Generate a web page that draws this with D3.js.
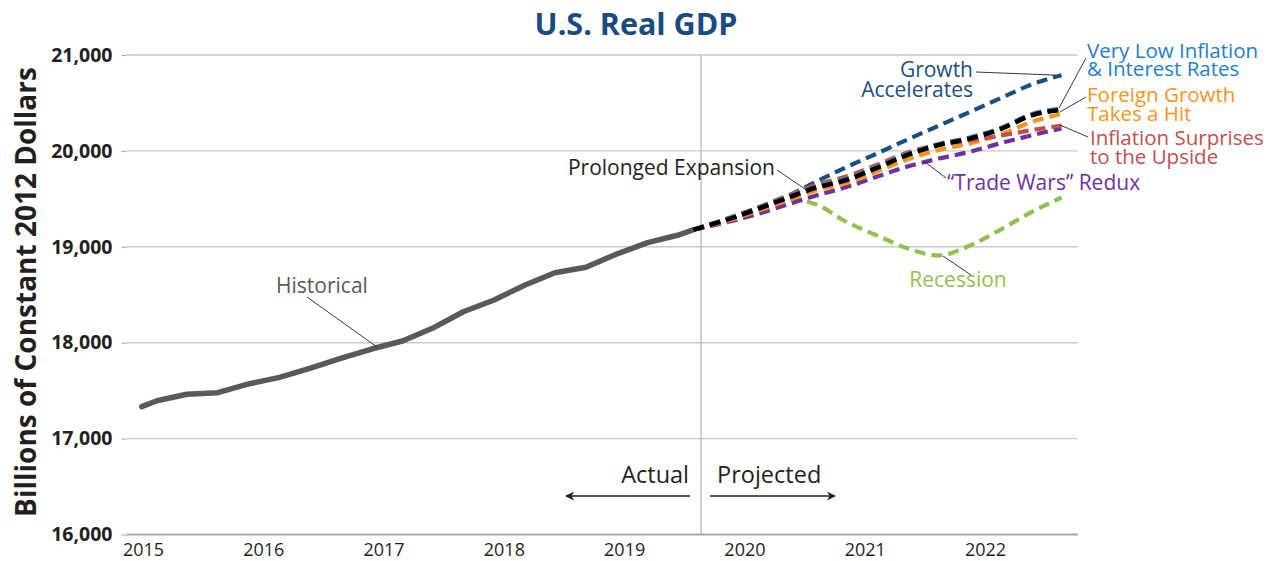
<!DOCTYPE html>
<html><head><meta charset="utf-8">
<script src="https://cdn.jsdelivr.net/npm/d3@7"></script>
<style>
html,body{margin:0;padding:0;background:#fff;}
svg{display:block;}
text{font-family:"Open Sans",sans-serif;}
</style></head>
<body><svg id="chart" width="1271" height="561"></svg>
<script>
// ---------------- DATA ----------------
const yearLabels = [2015, 2016, 2017, 2018, 2019, 2020, 2021, 2022];
const yTicks = [16000, 17000, 18000, 19000, 20000, 21000];

// Historical real GDP (billions of 2012 dollars)
const histDates = ["2015-01-01","2015-02-15","2015-05-15","2015-08-15","2015-11-15",
  "2016-02-15","2016-05-15","2016-08-15","2016-11-15",
  "2017-02-15","2017-05-15","2017-08-15","2017-11-15",
  "2018-02-15","2018-05-15","2018-08-15","2018-11-15",
  "2019-02-15","2019-05-15","2019-07-01"];
const histValues = [17333,17395,17462,17479,17570,17639,17733,17837,17934,
  18018,18150,18323,18445,18602,18730,18786,18925,19043,19120,19178];

// Projection quarters (2019Q3 - 2022Q3)
const projDates = ["2019-07-01","2019-10-01","2020-01-01","2020-04-01","2020-07-01",
  "2020-10-01","2021-01-01","2021-04-01","2021-07-01","2021-10-01",
  "2022-01-01","2022-04-01","2022-07-01"];
const recession     = [19178,19270,19380,19500,19441,19256,19113,18981,18910,19013,19180,19359,19514];
const growthAccel   = [19178,19280,19395,19520,19680,19835,19978,20122,20264,20406,20550,20690,20790];
const tradeWars     = [19178,19250,19335,19435,19535,19625,19735,19840,19920,19990,20080,20160,20235];
const foreignHit    = [19178,19262,19365,19478,19590,19668,19790,19915,20010,20078,20170,20300,20385];
const inflationUp   = [19178,19285,19400,19525,19648,19735,19860,19985,20065,20110,20160,20215,20265];
const lowInflation  = [19178,19280,19392,19512,19628,19712,19840,19972,20072,20140,20240,20380,20445];
const prolonged     = [19178,19273,19384,19503,19618,19699,19828,19961,20062,20128,20228,20368,20428];

const dividerDate = "2019-07-24";

// ---------------- LAYOUT ----------------
const svg = d3.select("#chart");
const plotLeft = 126.5, plotRight = 1077.7;
const parse = d3.timeParse("%Y-%m-%d");

const x = d3.scaleTime()
  .domain([new Date(2015,0,1), new Date(2022,0,1)])
  .range([141.8, 1000.7]);
// year labels are set as a separate row of text under the plot
const xLab = d3.scaleLinear().domain([2015, 2022]).range([143, 985]);
const y = d3.scaleLinear().domain([16000, 21000]).range([534.5, 55]);

// Gridlines
svg.append("g").selectAll("line").data(yTicks).join("line")
  .attr("x1", plotLeft).attr("x2", plotRight)
  .attr("y1", d => y(d)).attr("y2", d => y(d))
  .attr("stroke", d => d === 16000 ? "#a6a6a6" : "#c8c8c8")
  .attr("stroke-width", d => d === 16000 ? 2 : 1.4);

// Y axis
const yAxis = svg.append("g").attr("transform", `translate(${plotLeft},0)`)
  .call(d3.axisLeft(y).tickValues(yTicks).tickFormat(d3.format(",")).tickSize(5).tickPadding(9));
yAxis.select(".domain").remove();
yAxis.selectAll(".tick line").attr("stroke", "#a6a6a6");
yAxis.selectAll(".tick text").attr("font-family", "Open Sans").attr("font-weight", 700)
  .attr("font-size", 19.5).attr("fill", "#231f20");

// X axis labels
const xAxis = svg.append("g").attr("transform", `translate(0,${y(16000)})`)
  .call(d3.axisBottom(xLab).tickValues(yearLabels).tickFormat(d3.format("d")).tickSize(0).tickPadding(9));
xAxis.select(".domain").remove();
xAxis.selectAll(".tick text").attr("font-family", "Open Sans").attr("font-size", 18)
  .attr("font-weight", 500).attr("fill", "#231f20");

// Divider
const xd = x(parse(dividerDate));
svg.append("line").attr("x1", xd).attr("x2", xd).attr("y1", y(21000)).attr("y2", y(16000))
  .attr("stroke", "#a0a0a0").attr("stroke-width", 1);

// Lines
const lineHist = d3.line().x((d,i) => x(parse(histDates[i]))).y(d => y(d));
svg.append("path").datum(histValues).attr("d", lineHist)
  .attr("fill", "none").attr("stroke", "#595959").attr("stroke-width", 5.5)
  .attr("stroke-linejoin", "round").attr("stroke-linecap", "round");

const lineProj = d3.line().x((d,i) => x(parse(projDates[i]))).y(d => y(d)).curve(d3.curveMonotoneX);
const scen = [
  {v: recession, c: "#92c050"},
  {v: growthAccel, c: "#1b4f82"},
  {v: tradeWars, c: "#7030a0"},
  {v: foreignHit, c: "#f7941d"},
  {v: inflationUp, c: "#c0504d"},
  {v: lowInflation, c: "#2a8ad0"},
  {v: prolonged, c: "#000000"}
];
scen.forEach(s => {
  svg.append("path").datum(s.v).attr("d", lineProj)
    .attr("fill", "none").attr("stroke", s.c).attr("stroke-width", s.c === "#000000" ? 4.6 : 4.2)
    .attr("stroke-dasharray", "11,6");
});

// Annotations
function label(lines, xx, yy, anchor, color, size, lh) {
  const t = svg.append("text").attr("x", xx).attr("y", yy).attr("text-anchor", anchor)
    .attr("fill", color).attr("font-size", size).attr("font-family", "Open Sans");
  lines.forEach((l, i) => t.append("tspan").attr("x", xx).attr("dy", i === 0 ? 0 : lh).text(l));
}
function leader(x1, y1, x2, y2) {
  svg.append("line").attr("x1", x1).attr("y1", y1).attr("x2", x2).attr("y2", y2)
    .attr("stroke", "#231f20").attr("stroke-width", 0.9);
}

label(["Historical"], 322, 293, "middle", "#595959", 21, 0);
leader(307, 297, 377, 347);

label(["Prolonged Expansion"], 775, 175, "end", "#231f20", 21, 0);
leader(777, 170, 805, 189);

label(["Growth", "Accelerates"], 973, 77, "end", "#1b4f82", 21, 20);
leader(976, 72, x(parse(projDates[12])) - 6, y(growthAccel[12]));

label(["Very Low Inflation", "& Interest Rates"], 1087, 58, "start", "#1f80c6", 20.5, 18);
leader(1086, 58, 1059, 108);

label(["Foreign Growth", "Takes a Hit"], 1087, 102, "start", "#f7941d", 20.5, 19);
leader(1086, 97, 1060, 112);

label(["Inflation Surprises", "to the Upside"], 1090, 145, "start", "#c0504d", 20.5, 18.5);
leader(1088, 137, 1060, 125);

label(["\u201CTrade Wars\u201D Redux"], 947, 190, "start", "#7030a0", 21, 0);
leader(946, 178, 925, 162);

label(["Recession"], 958, 287, "middle", "#92c050", 21, 0);
leader(971, 275, 943, 256);

// Actual / Projected
svg.append("text").attr("x", xd - 12).attr("y", 483).attr("text-anchor", "end")
  .attr("font-size", 23.5).attr("fill", "#231f20").text("Actual");
svg.append("text").attr("x", xd + 16).attr("y", 483).attr("text-anchor", "start")
  .attr("font-size", 23.5).attr("fill", "#231f20").text("Projected");
const defs = svg.append("defs");
defs.append("marker").attr("id", "ah").attr("viewBox", "0 0 10 10").attr("refX", 9).attr("refY", 5)
  .attr("markerWidth", 9).attr("markerHeight", 9).attr("markerUnits", "userSpaceOnUse")
  .attr("orient", "auto").append("path").attr("d", "M0,0 L10,5 L0,10 L3,5 Z").attr("fill", "#231f20");
svg.append("line").attr("x1", xd - 11).attr("x2", xd - 135).attr("y1", 496).attr("y2", 496)
  .attr("stroke", "#231f20").attr("stroke-width", 1.5).attr("marker-end", "url(#ah)");
svg.append("line").attr("x1", xd + 9).attr("x2", xd + 134).attr("y1", 496).attr("y2", 496)
  .attr("stroke", "#231f20").attr("stroke-width", 1.5).attr("marker-end", "url(#ah)");

// Title & Y title
svg.append("text").attr("x", 636).attr("y", 35).attr("text-anchor", "middle")
  .attr("font-family", "Inter").attr("font-weight", 700).attr("font-size", 30.5)
  .attr("fill", "#1a4a80").text("U.S. Real GDP");
svg.append("text").attr("transform", "translate(26,292) rotate(-90)")
  .attr("text-anchor", "middle").attr("dy", "0.35em")
  .attr("font-weight", 700).attr("font-size", 28).attr("fill", "#231f20")
  .text("Billions of Constant 2012 Dollars");
</script></body></html>
